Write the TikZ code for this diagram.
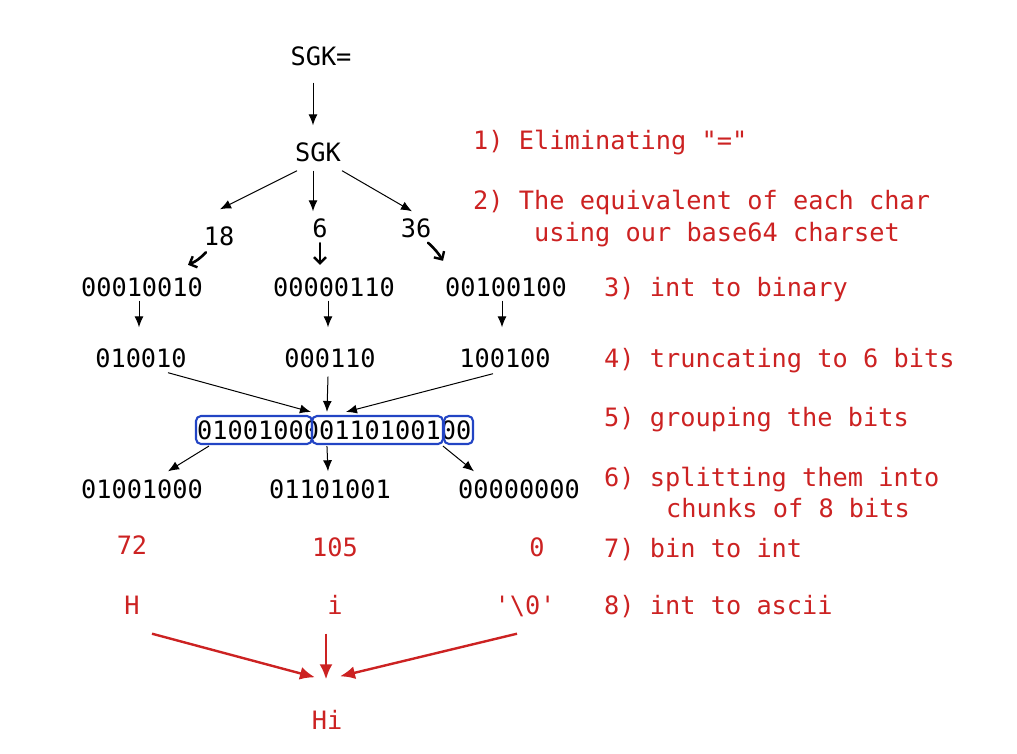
\documentclass[tikz,border=0pt]{standalone}
\usepackage{fontspec}
\newfontfamily\mono{DejaVu Sans Mono}
\usetikzlibrary{arrows.meta}
\definecolor{myred}{HTML}{CC2222}
\definecolor{myblue}{HTML}{2244C4}
\begin{document}
\begin{tikzpicture}[x=1pt,y=-1pt,
  t/.style={font=\mono\fontsize{25.3pt}{30pt}\selectfont, inner sep=0pt, text height=20pt, text depth=2pt},
  r/.style={t, text=myred},
  lab/.style={r, anchor=west},
  arr/.style={-{Latex[length=11pt,width=9pt]}, line width=1pt},
  rarr/.style={-{Latex[length=15pt,width=13pt]}, line width=2.4pt, draw=myred},
  hand/.style={-{Straight Barb[length=6pt,width=12pt,line width=2.4pt]}, line width=2.6pt, line cap=round},
  grp/.style={draw=myblue, line width=2.1pt, rounded corners=5pt, inner sep=0pt, minimum height=28pt}]
\useasboundingbox (0,0) rectangle (1017,754);
% nodes
\node[t] (s0) at (321,57) {SGK=};
\node[t] (s1) at (318,153) {SGK};
\node[t] (n18) at (219,236) {18};
\node[t] (n6) at (320,228) {6};
\node[t] (n36) at (416,228) {36};
\node[t] (b1) at (142,287) {00010010};
\node[t] (b2) at (334,287) {00000110};
\node[t] (b3) at (506,287) {00100100};
\node[t] (c1) at (141,358) {010010};
\node[t] (c2) at (330,358) {000110};
\node[t] (c3) at (505,358) {100100};
\node[t, anchor=west] (gt) at (197,430) {010010000110100100};
\node[grp, minimum width=116pt] (g1) at (254,430) {};
\node[grp, minimum width=131pt] (g2) at (377.5,430) {};
\node[grp, minimum width=29pt] (g3) at (458.5,430) {};
\node[t] (d1) at (142,489) {01001000};
\node[t] (d2) at (330,489) {01101001};
\node[t] (d3) at (519,489) {00000000};
\node[r] (e1) at (132,545) {72};
\node[r] (e2) at (335,547) {105};
\node[r] (e3) at (537,547) {0};
\node[r] (f1) at (132,605) {H};
\node[r] (f2) at (335,605) {i};
\node[r] (f3) at (525,605) {\char39\char92 0\char39};
\node[r] (hi) at (327,720) {Hi};
% labels
\node[lab] (l1) at (473,141) {1) Eliminating "="};
\node[lab] (l2a) at (473,201) {2) The equivalent of each char};
\node[lab] (l2b) at (534,232) {using our base64 charset};
\node[lab] (l3) at (604,287) {3) int to binary};
\node[lab] (l4) at (604,358) {4) truncating to 6 bits};
\node[lab] (l5) at (604,417) {5) grouping the bits};
\node[lab] (l6a) at (604,477) {6) splitting them into};
\node[lab] (l6b) at (666,508) {chunks of 8 bits};
\node[lab] (l7) at (604,548) {7) bin to int};
\node[lab] (l8) at (604,605) {8) int to ascii};
% connectors
\draw[arr] ([xshift=-8pt,yshift=-14.5pt]s0.south) -- ([xshift=-5pt,yshift=16.5pt]s1.north);
\draw[arr] ([xshift=-21pt,yshift=-6.5pt]s1.south) -- ([xshift=1pt,yshift=15.5pt]n18.north);
\draw[arr] ([xshift=-5pt,yshift=-6.5pt]s1.south) -- ([xshift=-7pt,yshift=5.5pt]n6.north);
\draw[arr] ([xshift=24pt,yshift=-6.5pt]s1.south) -- ([xshift=-4pt,yshift=5.5pt]n36.north);
\draw[hand] ([xshift=-13pt,yshift=-5pt]n18.south) to[bend left=12] ([xshift=46pt,yshift=11pt]b1.north);
\draw[hand] ([xshift=0pt,yshift=-4pt]n6.south) -- ([xshift=-14pt,yshift=11pt]b2.north);
\draw[hand] ([xshift=12pt,yshift=-3.5pt]n36.south) to[bend left=8] ([xshift=-63pt,yshift=15pt]b3.north);
\draw[arr] ([xshift=-3pt,yshift=-2.5pt]b1.south) -- ([xshift=-2pt,yshift=19.5pt]c1.north);
\draw[arr] ([xshift=-6pt,yshift=-2.5pt]b2.south) -- ([xshift=-2pt,yshift=19.5pt]c2.north);
\draw[arr] ([xshift=-4pt,yshift=-2.5pt]b3.south) -- ([xshift=-3pt,yshift=19.5pt]c3.north);
\draw[arr] ([xshift=27pt,yshift=-3.5pt]c1.south) -- ([xshift=0pt,yshift=3pt]g2.north west);
\draw[arr] ([xshift=-2pt,yshift=-7.5pt]c2.south) -- ([xshift=16pt,yshift=3pt]g2.north west);
\draw[arr] ([xshift=-12pt,yshift=-4.5pt]c3.south) -- ([xshift=35pt,yshift=3pt]g2.north west);
\draw[arr] ([xshift=14pt,yshift=-1pt]g1.south west) -- ([xshift=26pt,yshift=6.5pt]d1.north);
\draw[arr] ([xshift=16pt,yshift=-1pt]g2.south west) -- ([xshift=-2pt,yshift=6.5pt]d2.north);
\draw[arr] ([xshift=0pt,yshift=-1pt]g3.south west) -- ([xshift=-45pt,yshift=6.5pt]d3.north);
\draw[rarr] ([xshift=20pt,yshift=-17.5pt]f1.south) -- ([xshift=-12pt,yshift=31.5pt]hi.north);
\draw[rarr] ([xshift=-9pt,yshift=-17.5pt]f2.south) -- ([xshift=-1pt,yshift=29.5pt]hi.north);
\draw[rarr] ([xshift=-8pt,yshift=-17.5pt]f3.south) -- ([xshift=13pt,yshift=32.5pt]hi.north);
\end{tikzpicture}
\end{document}
